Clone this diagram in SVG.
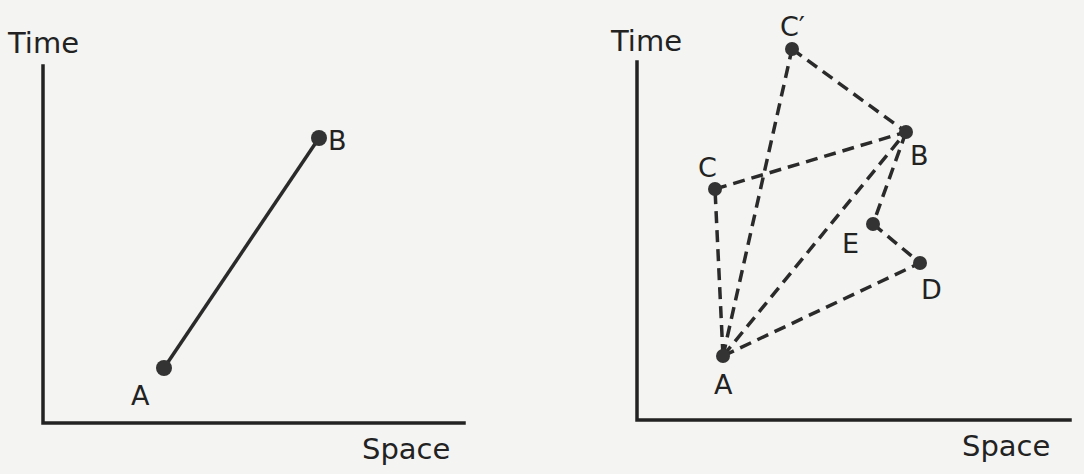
<svg xmlns="http://www.w3.org/2000/svg" width="1084" height="474" viewBox="0 0 1084 474">
<style>
.bg{fill:#f4f4f2}
.axis{stroke:#222;stroke-width:3.5;fill:none;stroke-linecap:square}
.solid{stroke:#2a2a2a;stroke-width:3.5;fill:none}
.dash{stroke:#2a2a2a;stroke-width:3.5;fill:none;stroke-dasharray:12 7}
.dot{fill:#333}
.t{font-family:"DejaVu Sans","Liberation Sans",sans-serif;fill:#222;font-size:29px}
.l{font-family:"DejaVu Sans","Liberation Sans",sans-serif;fill:#222;font-size:27px}
</style>
<rect class="bg" x="0" y="0" width="1084" height="474"/>
<g id="left-axes">
<path class="axis" d="M43 66 V423 H464"/>
<text class="t" x="8" y="53">Time</text>
<text class="t" x="362" y="459">Space</text>
</g>
<g id="left-connectors">
<line class="solid" x1="164" y1="368" x2="319" y2="138"/>
</g>
<g id="left-A"><circle class="dot" cx="164" cy="368" r="8"/><text class="l" x="131" y="405">A</text></g>
<g id="left-B"><circle class="dot" cx="319" cy="138" r="8"/><text class="l" x="328" y="150">B</text></g>

<g id="right-axes">
<path class="axis" d="M637 62 V420 H1070"/>
<text class="t" x="611" y="51">Time</text>
<text class="t" x="962" y="456">Space</text>
</g>
<g id="right-connectors">
<line class="dash" x1="723" y1="356" x2="715" y2="189"/>
<line class="dash" x1="723" y1="356" x2="792" y2="49"/>
<line class="dash" x1="723" y1="356" x2="906" y2="132"/>
<line class="dash" x1="723" y1="356" x2="920" y2="263"/>
<line class="dash" x1="715" y1="189" x2="906" y2="132"/>
<line class="dash" x1="792" y1="49" x2="906" y2="132"/>
<line class="dash" x1="906" y1="132" x2="873" y2="224"/>
<line class="dash" x1="873" y1="224" x2="920" y2="263"/>
</g>
<g id="node-A"><circle class="dot" cx="723" cy="356" r="7"/><text class="l" x="714" y="394">A</text></g>
<g id="node-B"><circle class="dot" cx="906" cy="132" r="7"/><text class="l" x="910" y="165">B</text></g>
<g id="node-C"><circle class="dot" cx="715" cy="189" r="7"/><text class="l" x="698" y="177">C</text></g>
<g id="node-Cp"><circle class="dot" cx="792" cy="49" r="7"/><text class="l" x="780" y="36">C′</text></g>
<g id="node-D"><circle class="dot" cx="920" cy="263" r="7"/><text class="l" x="921" y="299">D</text></g>
<g id="node-E"><circle class="dot" cx="873" cy="224" r="7"/><text class="l" x="842" y="253">E</text></g>
</svg>
